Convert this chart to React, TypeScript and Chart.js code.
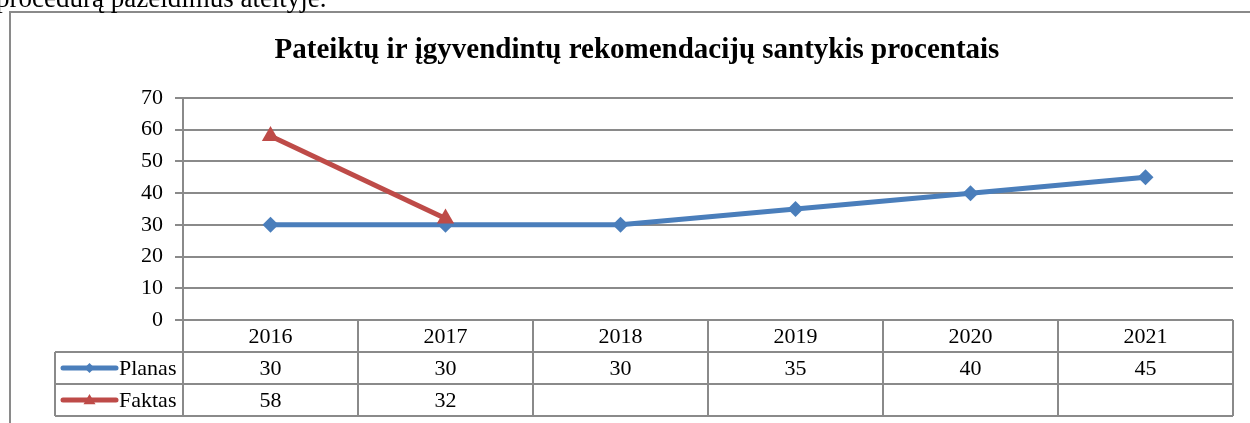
import React, { useEffect, useRef } from "react";
import { Chart, registerables } from "chart.js";

Chart.register(...registerables);

const categories = ["2016", "2017", "2018", "2019", "2020", "2021"];
const planas: (number | null)[] = [30, 30, 30, 35, 40, 45];
const faktas: (number | null)[] = [58, 32, null, null, null, null];
const seriesNames = ["Planas", "Faktas"];
const titleText = "Pateiktų ir įgyvendintų rekomendacijų santykis procentais";
const topText = "procedūrą pažeidimus ateityje.";

const BLUE = "#4A7EBB";
const RED = "#BE4B48";
const GRID = "#8a8a8a";
const FONT = "'Liberation Serif', 'Times New Roman', serif";

const tablePlugin = {
  id: "dataTable",
  beforeDraw(chart: any) {
    const { ctx } = chart;
    ctx.save();
    ctx.strokeStyle = "#8a8a8a";
    ctx.lineWidth = 2;
    ctx.beginPath();
    ctx.moveTo(10, 423);
    ctx.lineTo(10, 12);
    ctx.lineTo(1250, 12);
    ctx.stroke();
    ctx.fillStyle = "#000";
    ctx.font = `bold 29px ${FONT}`;
    ctx.textAlign = "center";
    ctx.textBaseline = "alphabetic";
    ctx.fillText(titleText, 637, 58);
    ctx.restore();
  },
  afterDraw(chart: any) {
    const { ctx, chartArea } = chart;
    const xs = chart.scales.x;
    const n = chart.data.labels.length;
    const left = chartArea.left;
    const right = chartArea.right;
    const colW = (right - left) / n;
    const top = chartArea.bottom;
    const rowH = 32;
    const headLeft = 55;
    ctx.save();
    ctx.strokeStyle = GRID;
    ctx.lineWidth = 2;
    ctx.beginPath();
    ctx.moveTo(left, top);
    ctx.lineTo(right, top);
    for (let r = 1; r <= 3; r++) {
      ctx.moveTo(headLeft, top + r * rowH);
      ctx.lineTo(right, top + r * rowH);
    }
    for (let i = 0; i <= n; i++) {
      const x = left + i * colW;
      ctx.moveTo(x, top);
      ctx.lineTo(x, top + 3 * rowH);
    }
    ctx.moveTo(headLeft, top + rowH);
    ctx.lineTo(headLeft, top + 3 * rowH);
    ctx.stroke();

    ctx.fillStyle = "#000";
    ctx.font = `22px ${FONT}`;
    ctx.textAlign = "center";
    ctx.textBaseline = "middle";
    for (let i = 0; i < n; i++) {
      const cx = xs.getPixelForValue(i);
      ctx.fillText(String(chart.data.labels[i]), cx, top + rowH / 2 + 1);
      chart.data.datasets.forEach((ds: any, di: number) => {
        const v = ds.data[i];
        if (v !== null && v !== undefined) {
          ctx.fillText(String(v), cx, top + rowH * (di + 1) + rowH / 2 + 1);
        }
      });
    }
    chart.data.datasets.forEach((ds: any, di: number) => {
      const cy = top + rowH * (di + 1) + rowH / 2;
      ctx.strokeStyle = ds.borderColor;
      ctx.lineWidth = 5;
      ctx.lineCap = "round";
      ctx.beginPath();
      ctx.moveTo(63, cy);
      ctx.lineTo(116, cy);
      ctx.stroke();
      ctx.fillStyle = ds.borderColor;
      ctx.beginPath();
      if (ds.pointStyle === "rectRot") {
        const r = 5;
        ctx.moveTo(89.5, cy - r);
        ctx.lineTo(89.5 + r, cy);
        ctx.lineTo(89.5, cy + r);
        ctx.lineTo(89.5 - r, cy);
      } else {
        const r = 6;
        ctx.moveTo(89.5, cy - r);
        ctx.lineTo(89.5 + r, cy + r * 0.7);
        ctx.lineTo(89.5 - r, cy + r * 0.7);
      }
      ctx.closePath();
      ctx.fill();
      ctx.fillStyle = "#000";
      ctx.textAlign = "left";
      ctx.fillText(ds.label, 119, cy + 1);
    });
    ctx.restore();
  },
};

export default function App() {
  const ref = useRef<HTMLCanvasElement>(null);
  useEffect(() => {
    if (!ref.current) return;
    const chart = new Chart(ref.current, {
      type: "line",
      data: {
        labels: categories,
        datasets: [
          {
            label: seriesNames[0],
            data: planas,
            borderColor: BLUE,
            backgroundColor: BLUE,
            borderWidth: 5,
            pointStyle: "rectRot",
            pointRadius: 8,
            pointBorderWidth: 0,
            tension: 0,
            order: 1,
          },
          {
            label: seriesNames[1],
            data: faktas,
            borderColor: RED,
            backgroundColor: RED,
            borderWidth: 5,
            pointStyle: "triangle",
            pointRadius: 10,
            pointBorderWidth: 0,
            tension: 0,
            order: 0,
          },
        ],
      },
      plugins: [tablePlugin],
      options: {
        responsive: false,
        animation: false,
        layout: { padding: { top: 98, right: 17, bottom: 0, left: 0 } },
        plugins: {
          legend: { display: false },
          tooltip: { enabled: false },
          title: { display: false },
        },
        scales: {
          x: {
            offset: true,
            grid: { display: false },
            border: { display: false },
            ticks: { display: false },
            afterFit: (s: any) => {
              s.height = 103;
            },
          },
          y: {
            min: 0,
            max: 70,
            ticks: {
              stepSize: 10,
              color: "#000",
              padding: 12,
              font: { family: FONT, size: 22 },
            },
            grid: { color: GRID, lineWidth: 2, tickLength: 8 },
            border: { color: GRID, width: 2 },
            afterFit: (s: any) => {
              s.width = 183;
            },
          },
        },
      },
    } as any);
    return () => chart.destroy();
  }, []);
  return (
    <div style={{ position: "absolute", left: 0, top: 0, width: 1250, height: 423, overflow: "hidden", background: "#fff" }}>
      <canvas ref={ref} width={1250} height={423} style={{ position: "absolute", left: 0, top: 0 }} />
      <div
        style={{
          position: "absolute",
          left: -4,
          top: -15,
          fontFamily: FONT,
          fontSize: 27,
          lineHeight: "26px",
          whiteSpace: "nowrap",
          color: "#000",
        }}
      >
        {topText}
      </div>
    </div>
  );
}
